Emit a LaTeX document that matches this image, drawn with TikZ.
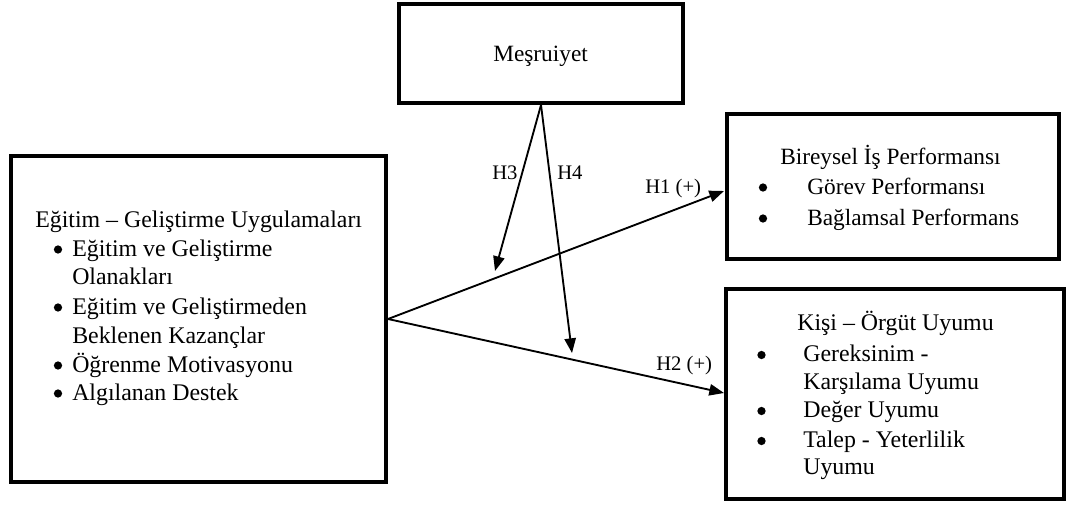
\documentclass[tikz,border=0pt]{standalone}
\usepackage{fontspec}
\setmainfont{Liberation Serif}
\usetikzlibrary{arrows.meta,fit}
\begin{document}
\begin{tikzpicture}[x=0.75pt,y=-0.75pt,
  box/.style={draw,line width=3pt,inner sep=0pt,fill=none},
  txt/.style={inner sep=0pt,anchor=base west,font=\fontsize{17.5}{21}\selectfont},
  ctxt/.style={inner sep=0pt,anchor=base west,font=\fontsize{17.9}{21}\selectfont},
  lbl/.style={inner sep=0pt,anchor=base west,font=\fontsize{15.5}{18}\selectfont},
  dot/.style={circle,fill=black,inner sep=0pt,minimum size=6.2pt},
  arr/.style={line width=1.4pt,-{Triangle[length=11pt,width=8.5pt]}}]
\useasboundingbox (0,0) rectangle (1067,506);
% boxes
\node[box,fit={(399,4)(683,103)}] (M) {};
\node[box,fit={(11,156)(386,482)}] (L) {};
\node[box,fit={(727,114)(1059,259)}] (TR) {};
\node[box,fit={(726,289)(1064,499)}] (BR) {};
% texts
\node[txt] (mt) at (493,62) {Meşruiyet};
\node[ctxt] (l1) at (35,227) {Eğitim – Geliştirme Uygulamaları};
\node[dot] (lb1) at (58,249.5) {};
\node[ctxt] (l2) at (72,256) {Eğitim ve Geliştirme};
\node[ctxt] (l3) at (72,284) {Olanakları};
\node[dot] (lb2) at (58,307.5) {};
\node[ctxt] (l4) at (72,314) {Eğitim ve Geliştirmeden};
\node[ctxt] (l5) at (72,343) {Beklenen Kazançlar};
\node[dot] (lb3) at (58,365.5) {};
\node[ctxt] (l6) at (72,372) {Öğrenme Motivasyonu};
\node[dot] (lb4) at (58,393.5) {};
\node[ctxt] (l7) at (72,400) {Algılanan Destek};
\node[txt] (t1) at (780,165) {Bireysel İş Performansı};
\node[dot] (tb1) at (763,187.5) {};
\node[txt] (t2) at (807,195) {Görev Performansı};
\node[dot] (tb2) at (763,218.5) {};
\node[txt] (t3) at (807,225) {Bağlamsal Performans};
\node[ctxt] (b1) at (797,330) {Kişi – Örgüt Uyumu};
\node[dot] (bb1) at (761.5,355) {};
\node[ctxt] (b2) at (803,361) {Gereksinim -};
\node[ctxt] (b3) at (803,389) {Karşılama Uyumu};
\node[dot] (bb2) at (761.5,411) {};
\node[ctxt] (b4) at (803,417) {Değer Uyumu};
\node[dot] (bb3) at (761.5,441) {};
\node[ctxt] (b5) at (803,447) {Talep - Yeterlilik};
\node[ctxt] (b6) at (803,474) {Uyumu};
% connector end points
\coordinate (m0) at (541,105);
\coordinate (h3end) at (495,271);
\coordinate (h4end) at (572,353);
\coordinate (l0) at (388,319);
\coordinate (h1end) at (724,191);
\coordinate (h2end) at (724,393);
% connectors
\draw[arr] (l0) -- (h1end);
\draw[arr] (l0) -- (h2end);
\draw[arr] (m0) -- (h3end);
\draw[arr] (m0) -- (h4end);
% labels
\node[lbl] (lh3) at (492,180) {H3};
\node[lbl] (lh4) at (557,180) {H4};
\node[lbl] (lh1) at (645,194) {H1 (+)};
\node[lbl] (lh2) at (656,370) {H2 (+)};
\end{tikzpicture}
\end{document}
